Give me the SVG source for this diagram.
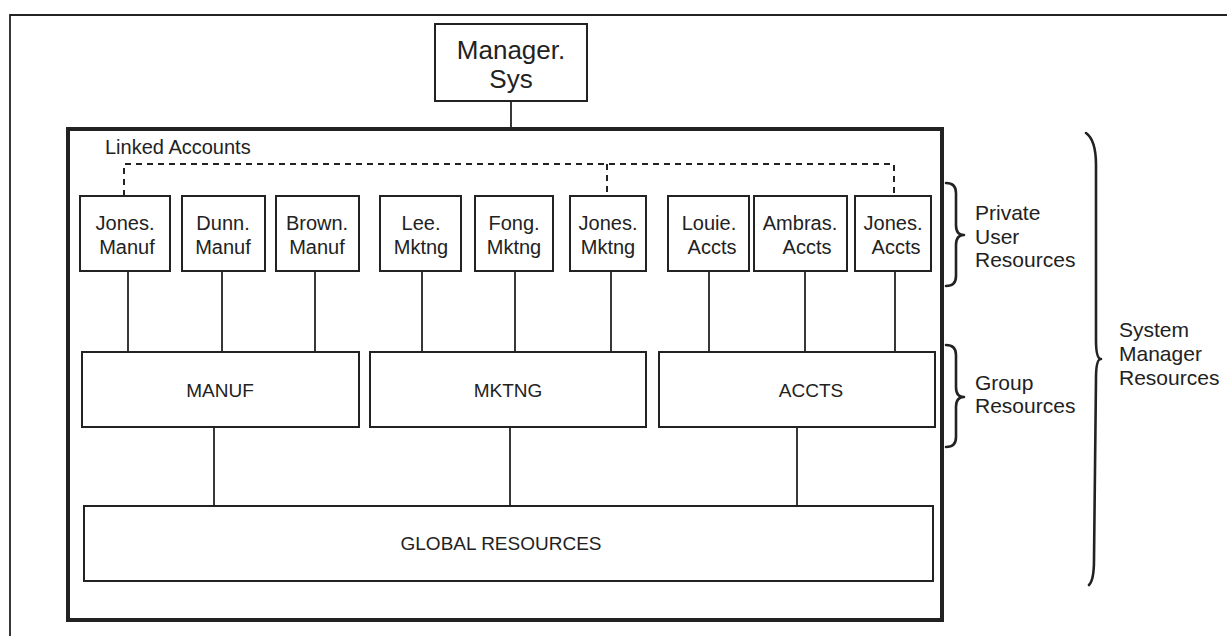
<svg xmlns="http://www.w3.org/2000/svg" width="1227" height="636" viewBox="0 0 1227 636">
<style>
.box{fill:#fff;stroke:#222;stroke-width:2}
.ln{stroke:#222;stroke-width:1.8;fill:none}
.dash{stroke:#222;stroke-width:2;stroke-dasharray:6 5;fill:none}
.brace{stroke:#222;stroke-width:2.6;fill:none;stroke-linecap:round;stroke-linejoin:round}
text{font-family:"Liberation Sans",Arial,sans-serif;fill:#222;text-anchor:middle}
.u{font-size:20px}
.g{font-size:19px}
.lab{font-size:21px;text-anchor:start}
</style>
<rect x="0" y="0" width="1227" height="636" fill="#fff"/>
<path d="M10,650 L10,15 L1240,15" class="ln" stroke-width="1.5"/>
<g id="connectors">
<line class="ln" x1="511" y1="101" x2="511" y2="129"/>
<path class="dash" d="M124,196 L124,164 L894,164 L894,196"/>
<line class="dash" x1="607" y1="164" x2="607" y2="196"/>
<line class="ln" x1="128" y1="271" x2="128" y2="352"/>
<line class="ln" x1="222" y1="271" x2="222" y2="352"/>
<line class="ln" x1="315" y1="271" x2="315" y2="352"/>
<line class="ln" x1="422" y1="271" x2="422" y2="352"/>
<line class="ln" x1="515" y1="271" x2="515" y2="352"/>
<line class="ln" x1="611" y1="271" x2="611" y2="352"/>
<line class="ln" x1="709" y1="271" x2="709" y2="352"/>
<line class="ln" x1="805" y1="271" x2="805" y2="352"/>
<line class="ln" x1="895" y1="271" x2="895" y2="352"/>
<line class="ln" x1="214" y1="427" x2="214" y2="506"/>
<line class="ln" x1="510" y1="427" x2="510" y2="506"/>
<line class="ln" x1="797" y1="427" x2="797" y2="506"/>
</g>
<g id="manager-sys">
<rect class="box" x="435" y="24" width="152" height="77"/>
<text x="511" y="59" style="font-size:26px">Manager.</text>
<text x="511" y="88" style="font-size:26px">Sys</text>
</g>
<g id="main-frame">
<rect x="68" y="129" width="874" height="491" fill="none" stroke="#222" stroke-width="4"/>
<text x="105" y="154" style="font-size:20px;text-anchor:start">Linked Accounts</text>
</g>
<g id="jones-manuf"><rect class="box" x="80" y="196" width="90" height="75"/><text class="u" x="125" y="230">Jones.</text><text class="u" x="127" y="254">Manuf</text></g>
<g id="dunn-manuf"><rect class="box" x="182" y="196" width="83" height="75"/><text class="u" x="223" y="230">Dunn.</text><text class="u" x="223" y="254">Manuf</text></g>
<g id="brown-manuf"><rect class="box" x="276" y="196" width="83" height="75"/><text class="u" x="317" y="230">Brown.</text><text class="u" x="317" y="254">Manuf</text></g>
<g id="lee-mktng"><rect class="box" x="380" y="196" width="81" height="75"/><text class="u" x="421" y="230">Lee.</text><text class="u" x="421" y="254">Mktng</text></g>
<g id="fong-mktng"><rect class="box" x="475" y="196" width="78" height="75"/><text class="u" x="514" y="230">Fong.</text><text class="u" x="514" y="254">Mktng</text></g>
<g id="jones-mktng"><rect class="box" x="570" y="196" width="76" height="75"/><text class="u" x="608" y="230">Jones.</text><text class="u" x="608" y="254">Mktng</text></g>
<g id="louie-accts"><rect class="box" x="668" y="196" width="81" height="75"/><text class="u" x="709" y="230">Louie.</text><text class="u" x="712" y="254">Accts</text></g>
<g id="ambras-accts"><rect class="box" x="754" y="196" width="93" height="75"/><text class="u" x="800" y="230">Ambras.</text><text class="u" x="807" y="254">Accts</text></g>
<g id="jones-accts"><rect class="box" x="855" y="196" width="76" height="75"/><text class="u" x="893" y="230">Jones.</text><text class="u" x="896" y="254">Accts</text></g>
<g id="manuf"><rect class="box" x="82" y="352" width="277" height="75"/><text class="g" x="220" y="397">MANUF</text></g>
<g id="mktng"><rect class="box" x="370" y="352" width="276" height="75"/><text class="g" x="508" y="397">MKTNG</text></g>
<g id="accts"><rect class="box" x="659" y="352" width="276" height="75"/><text class="g" x="811" y="397">ACCTS</text></g>
<g id="global"><rect class="box" x="84" y="506" width="849" height="75"/><text class="g" x="501" y="550">GLOBAL RESOURCES</text></g>
<g id="private-brace">
<path class="brace" d="M946,183 Q956,183 956,193 L956,225 Q956,235 964,235 Q956,235 956,245 L956,276 Q956,286 946,286"/>
<text class="lab" x="975" y="220">Private</text>
<text class="lab" x="975" y="244">User</text>
<text class="lab" x="975" y="267">Resources</text>
</g>
<g id="group-brace">
<path class="brace" d="M946,345 Q956,345 956,355 L956,387 Q956,397 964,397 Q956,397 956,407 L956,437 Q956,447 946,447"/>
<text class="lab" x="975" y="390">Group</text>
<text class="lab" x="975" y="413">Resources</text>
</g>
<g id="system-brace">
<path class="brace" d="M1086,133 Q1096,140 1096,165 L1096,340 Q1096,359 1101,359 Q1096,359 1096,378 L1094,560 Q1094,580 1089,585"/>
<text class="lab" x="1119" y="337">System</text>
<text class="lab" x="1119" y="361">Manager</text>
<text class="lab" x="1119" y="385">Resources</text>
</g>
</svg>
